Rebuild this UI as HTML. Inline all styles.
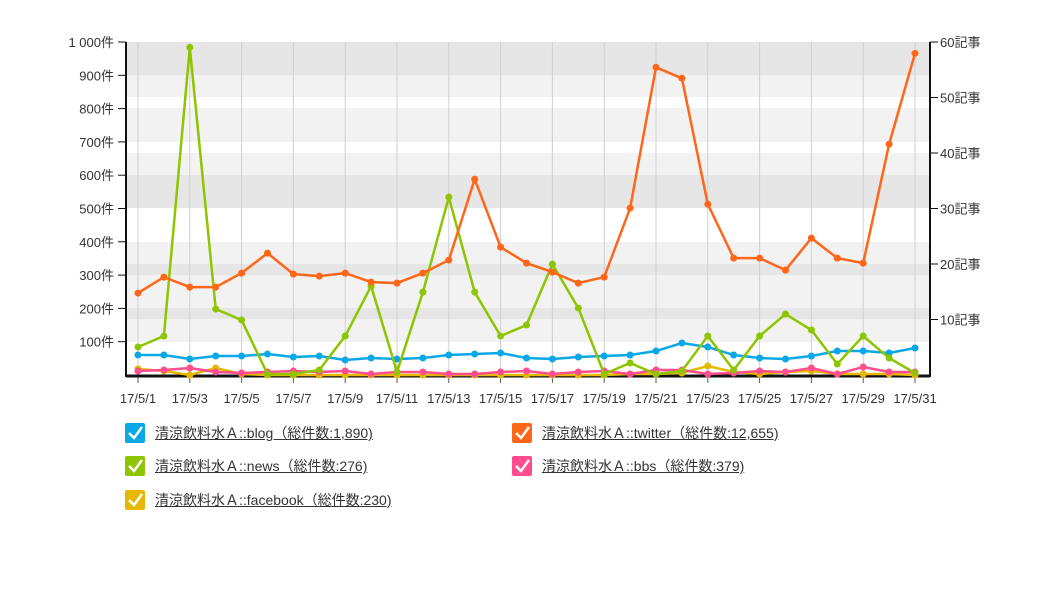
<!DOCTYPE html>
<html><head><meta charset="utf-8">
<style>
body{margin:0;background:#fff;width:1056px;height:594px;overflow:hidden;font-family:"Liberation Sans","Noto Sans CJK JP",sans-serif;}
.leg{position:absolute;display:flex;align-items:center;font-size:14px;color:#333;}
.leg .box{width:20px;height:20px;border-radius:2px;margin-right:10px;position:relative;}
.leg span{text-decoration:underline;}
</style></head><body>
<svg id="chart" width="1056" height="594" style="position:absolute;left:0;top:0" font-family="Liberation Sans, Noto Sans CJK JP, sans-serif" font-size="13" fill="#333"></svg>
<div class="leg" style="left:125px;top:423px"><div class="box" style="background:#0aa8e6"><svg width="20" height="20"><path d="M4 10 L9 15 L17 4" stroke="#fff" stroke-width="2.5" fill="none"/></svg></div><span>清涼飲料水Ａ::blog（総件数:1,890)</span></div>
<div class="leg" style="left:512px;top:423px"><div class="box" style="background:#ff6619"><svg width="20" height="20"><path d="M4 10 L9 15 L17 4" stroke="#fff" stroke-width="2.5" fill="none"/></svg></div><span>清涼飲料水Ａ::twitter（総件数:12,655)</span></div>
<div class="leg" style="left:125px;top:456px"><div class="box" style="background:#8fc400"><svg width="20" height="20"><path d="M4 10 L9 15 L17 4" stroke="#fff" stroke-width="2.5" fill="none"/></svg></div><span>清涼飲料水Ａ::news（総件数:276)</span></div>
<div class="leg" style="left:512px;top:456px"><div class="box" style="background:#ff4d8d"><svg width="20" height="20"><path d="M4 10 L9 15 L17 4" stroke="#fff" stroke-width="2.5" fill="none"/></svg></div><span>清涼飲料水Ａ::bbs（総件数:379)</span></div>
<div class="leg" style="left:125px;top:490px"><div class="box" style="background:#e6b800"><svg width="20" height="20"><path d="M4 10 L9 15 L17 4" stroke="#fff" stroke-width="2.5" fill="none"/></svg></div><span>清涼飲料水Ａ::facebook（総件数:230)</span></div>
<script>
const days = Array.from({length:31},(_,i)=>'17/5/'+(i+1));
const leftTicks = [100,200,300,400,500,600,700,800,900,1000];
const leftTickLabels = ['100件','200件','300件','400件','500件','600件','700件','800件','900件','1 000件'];
const rightTicks = [10,20,30,40,50,60];
const rightTickLabels = ['10記事','20記事','30記事','40記事','50記事','60記事'];
const twitter = [246,294,264,264,306,366,303,297,306,279,276,306,345,588,384,336,309,276,294,501,924,891,513,351,351,315,411,351,336,693,966];
const news = [84,117,984,198,165,3,3,15,117,267,9,249,534,249,117,150,333,201,3,36,3,12,117,15,117,183,135,33,117,51,6];
const blog = [60,60,48,57,57,63,54,57,45,51,48,51,60,63,66,51,48,54,57,60,72,96,84,60,51,48,57,72,72,66,81];
const bbs = [12,15,21,9,6,9,12,9,12,3,9,9,3,3,9,12,3,9,12,3,15,15,3,6,12,9,21,3,24,9,9];
const facebook = [18,12,0,21,3,0,0,0,0,0,0,0,0,0,0,0,0,0,0,3,3,6,27,9,3,9,12,3,3,3,0];
const seriesList = [
 {name:'twitter',vals:twitter,color:'#ff6619'},
 {name:'news',vals:news,color:'#8fc400'},
 {name:'blog',vals:blog,color:'#0aa8e6'},
 {name:'bbs',vals:bbs,color:'#ff4d8d'},
 {name:'facebook',vals:facebook,color:'#e6b800'}
];
const NS='http://www.w3.org/2000/svg';
const svg=document.getElementById('chart');
const X0=138,X1=915,Y0=375,Y1=42,PL=126,PR=930;
const x=i=>X0+(X1-X0)*i/(days.length-1);
const y=v=>Y0-(Y0-Y1)*v/1000;
const yr=v=>Y0-(Y0-Y1)*v/60;
function el(t,a,p){const e=document.createElementNS(NS,t);for(const k in a)e.setAttribute(k,a[k]);(p||svg).appendChild(e);return e;}
// background bands
const bands=[[42,75,'#e6e6e6'],[75,97,'#f2f2f2'],[108,142,'#f2f2f2'],[153,175,'#f2f2f2'],[175,208,'#e6e6e6'],[242,264,'#f2f2f2'],[264,275,'#e6e6e6'],[275,308,'#f2f2f2'],[308,319,'#e6e6e6'],[319,342,'#f2f2f2']];
bands.forEach(b=>{const r=el('rect',{x:PL,y:b[0],width:PR-PL,height:b[1]-b[0],fill:b[2]});

});
// vertical grid + x labels
days.forEach((d,i)=>{if(i%2)return;
 const g=el('line',{x1:x(i),x2:x(i),y1:Y1,y2:Y0,stroke:'#d0d0d0','stroke-width':1});
 
 
 const t=el('line',{x1:x(i),x2:x(i),y1:Y0,y2:Y0+8,stroke:'#555'});
 
 
 const l=el('text',{x:x(i),y:Y0+28,'text-anchor':'middle'});l.textContent=d;
 
 });
// axes
const la=el('line',{x1:PL,x2:PL,y1:Y1,y2:Y0+2,stroke:'#111','stroke-width':2});


const ra=el('line',{x1:PR,x2:PR,y1:Y1,y2:Y0+2,stroke:'#111','stroke-width':2});


const ba=el('line',{x1:PL,x2:PR,y1:Y0+1,y2:Y0+1,stroke:'#111','stroke-width':3});


leftTicks.forEach((v,i)=>{const t=el('line',{x1:PL-8,x2:PL,y1:y(v),y2:y(v),stroke:'#111'});
 
 
 const l=el('text',{x:PL-12,y:y(v)+5,'text-anchor':'end'});l.textContent=leftTickLabels[i];
 
 });
rightTicks.forEach((v,i)=>{const t=el('line',{x1:PR,x2:PR+8,y1:yr(v),y2:yr(v),stroke:'#111'});
 
 
 const l=el('text',{x:PR+10,y:yr(v)+5,'text-anchor':'start'});l.textContent=rightTickLabels[i];
 
 });
// series (draw back to front)
seriesList.slice().reverse().forEach(s=>{
 const p=el('polyline',{points:s.vals.map((v,i)=>x(i)+','+y(v)).join(' '),fill:'none',stroke:s.color,'stroke-width':2.5});
 
 
 s.vals.forEach((v,i)=>{const c=el('circle',{cx:x(i),cy:y(v),r:3.5,fill:s.color});
  
  });
});
</script>
</body></html>
